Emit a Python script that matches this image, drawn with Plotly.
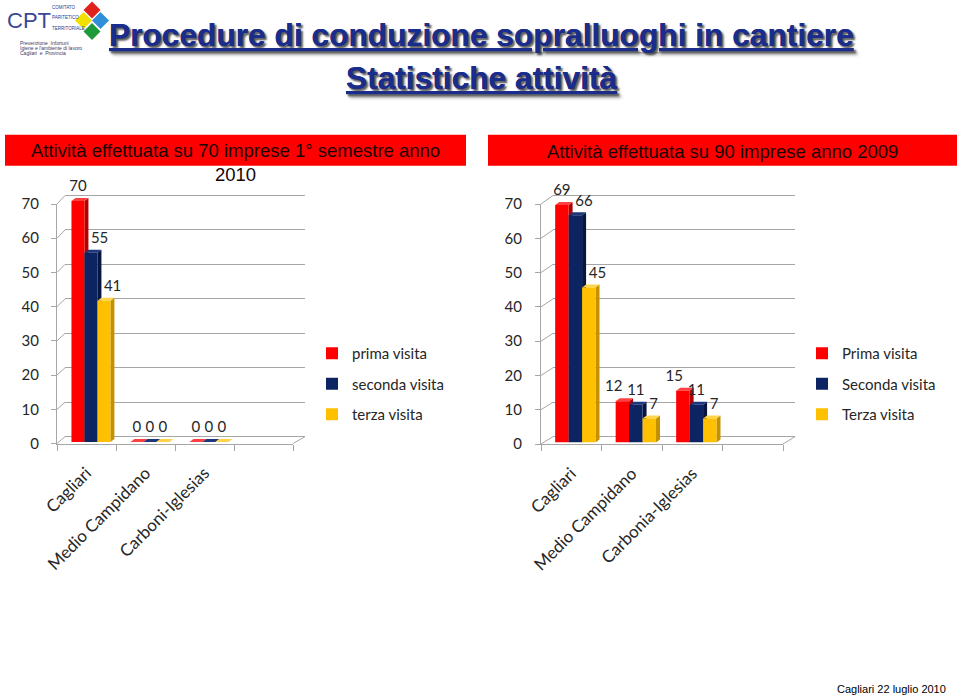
import plotly.graph_objects as go

W, H = 960, 696

# ---------------- data ----------------
categories_2010 = ["Cagliari", "Medio Campidano", "Carboni-Iglesias"]
categories_2009 = ["Cagliari", "Medio Campidano", "Carbonia-Iglesias"]
series_names_2010 = ["prima visita", "seconda visita", "terza visita"]
series_names_2009 = ["Prima visita", "Seconda visita", "Terza visita"]
prima_2010 = [70, 0, 0]
seconda_2010 = [55, 0, 0]
terza_2010 = [41, 0, 0]
prima_2009 = [69, 12, 15]
seconda_2009 = [66, 11, 11]
terza_2009 = [45, 7, 7]
y_tick_values = [0, 10, 20, 30, 40, 50, 60, 70]
title_2010 = "Attività effettuata su 70 imprese 1° semestre anno<br>2010"
title_2009 = "Attività effettuata su 90 imprese anno 2009"
main_title = "Procedure di conduzione sopralluoghi in cantiere"
sub_title = "Statistiche attività"
footer_text = "Cagliari 22 luglio 2010"

# ---------------- style ----------------
front_colors = ["#ff0000", "#0c2462", "#ffc000"]
side_colors = ["#b00000", "#061640", "#c49200"]
top_colors = ["#ff4040", "#1d377a", "#ffd44a"]
grid_color = "#a6a6a6"
text_color = "#262626"
label_font = "Lato, 'Open Sans', sans-serif"
arial = "'Liberation Sans', Arial, sans-serif"
# data-label placement (style only), one list per series
label_pos_2010 = [["top center", "top center", "top center"],
                  ["top right", "top center", "top center"],
                  ["top right", "top center", "top center"]]
label_pos_2009 = [["top center", "top left", "top left"],
                  ["top right", "top center", "top center"],
                  ["top right", "top right", "top right"]]


def fx(p):
    return p / W


def fy(p):
    return 1 - p / H


def y_domain(p0, p70, rng):
    s = (p0 - p70) / 70.0
    bottom = p0 + (0 - rng[0]) * s
    top = p70 - (rng[1] - 70) * s
    return [fy(bottom), fy(top)]


charts = [
    dict(cats=categories_2010, names=series_names_2010,
         values=[prima_2010, seconda_2010, terza_2010], title=title_2010,
         label_pos=label_pos_2010,
         ids=(1, 2, 3, 7), legend="legend",
         back_x=(65, 305), back_y=(436.7, 195.5),
         front_x=(57, 293), front_y=(443.5, 204),
         bar_y=(442, 201), offsets=[-0.145, 0.075, 0.295], bw=0.22,
         ystandoff=9, header=(5, 466), title_xy=(235.5, 162.5),
         legend_xy=(312, 337)),
    dict(cats=categories_2009, names=series_names_2009,
         values=[prima_2009, seconda_2009, terza_2009], title=title_2009,
         label_pos=label_pos_2009,
         ids=(4, 5, 6, 8), legend="legend2",
         back_x=(553, 795), back_y=(436.7, 195.5),
         front_x=(541, 783), front_y=(444, 204),
         bar_y=(442.5, 201.5), offsets=[-0.155, 0.068, 0.29], bw=0.222,
         ystandoff=10, header=(488, 957), title_xy=(722.5, 151.7),
         legend_xy=(802, 337)),
]


def axname(n, letter):
    return f"{letter}axis" if n == 1 else f"{letter}axis{n}"


def axref(n, letter):
    return letter if n == 1 else f"{letter}{n}"


fig = go.Figure()
layout = dict(
    width=W, height=H, margin=dict(l=0, r=0, t=0, b=0, autoexpand=False),
    paper_bgcolor="white", plot_bgcolor="rgba(0,0,0,0)",
    barmode="overlay", showlegend=True,
)
shapes = []
annotations = []

BAR_RANGE = [0, 72.5]
X_RANGE = [-0.5, 3.5]
LABEL_LIFT = 6  # px: data labels sit above the 3D top face

for ch in charts:
    b, r, f, t = ch["ids"]
    # back wall (grid lines)
    back_rng = [-0.5, 70.5]
    layout[axname(b, "x")] = dict(domain=[fx(ch["back_x"][0]), fx(ch["back_x"][1])],
                                  range=[0, 1], visible=False, anchor=axref(b, "y"),
                                  type="linear")
    layout[axname(b, "y")] = dict(domain=y_domain(*ch["back_y"], back_rng), range=back_rng,
                                  anchor=axref(b, "x"), type="linear",
                                  tickmode="array", tickvals=y_tick_values,
                                  showgrid=True, gridcolor=grid_color, gridwidth=1,
                                  showticklabels=False, ticks="", showline=False,
                                  zeroline=False)
    fig.add_trace(go.Scatter(x=[0.5], y=[0], mode="none", showlegend=False, hoverinfo="skip",
                             xaxis=axref(b, "x"), yaxis=axref(b, "y")))
    # bars plane
    layout[axname(r, "x")] = dict(domain=[fx(ch["front_x"][0]), fx(ch["front_x"][1])],
                                  range=X_RANGE, visible=False, anchor=axref(r, "y"),
                                  type="linear")
    layout[axname(r, "y")] = dict(domain=y_domain(*ch["bar_y"], BAR_RANGE), range=BAR_RANGE,
                                  visible=False, anchor=axref(r, "x"), type="linear")
    # front plane (axes, labels)
    layout[axname(f, "x")] = dict(domain=[fx(ch["front_x"][0]), fx(ch["front_x"][1])],
                                  range=X_RANGE, anchor=axref(f, "y"), type="linear",
                                  tickmode="array", tickvals=list(range(len(ch["cats"]))),
                                  ticktext=ch["cats"], ticks="", tickangle=-45,
                                  ticklabelstandoff=12,
                                  tickfont=dict(family=label_font, size=17, color=text_color),
                                  showline=True, linecolor=grid_color, linewidth=1,
                                  showgrid=False, zeroline=False,
                                  minor=dict(tickmode="array",
                                             tickvals=[k - 0.5 for k in range(len(ch["cats"]) + 2)],
                                             ticks="outside", ticklen=6, tickcolor=grid_color,
                                             showgrid=False))
    layout[axname(f, "y")] = dict(domain=y_domain(*ch["front_y"], [0, 70]), range=[0, 70],
                                  anchor=axref(f, "x"), type="linear",
                                  tickmode="array", tickvals=y_tick_values,
                                  ticks="outside", ticklen=5, tickcolor=grid_color,
                                  ticklabelstandoff=ch["ystandoff"],
                                  tickfont=dict(family=label_font, size=15, color=text_color),
                                  showline=True, linecolor=grid_color, linewidth=1,
                                  showgrid=False, zeroline=False)
    fig.add_trace(go.Scatter(x=[0], y=[0], mode="none", showlegend=False, hoverinfo="skip",
                             xaxis=axref(f, "x"), yaxis=axref(f, "y")))
    # data-label plane (same scale as bars, lifted a few px)
    layout[axname(t, "x")] = dict(domain=[fx(ch["front_x"][0]), fx(ch["front_x"][1])],
                                  range=X_RANGE, visible=False, anchor=axref(t, "y"),
                                  type="linear")
    layout[axname(t, "y")] = dict(domain=y_domain(ch["bar_y"][0] - LABEL_LIFT,
                                                  ch["bar_y"][1] - LABEL_LIFT, BAR_RANGE),
                                  range=BAR_RANGE, visible=False, anchor=axref(t, "x"),
                                  type="linear")

    # bars + 3D faces
    px_per_x = (ch["front_x"][1] - ch["front_x"][0]) / (X_RANGE[1] - X_RANGE[0])
    px_per_y = (ch["bar_y"][0] - ch["bar_y"][1]) / 70.0
    dx = 4.0 / px_per_x
    dy = 3.0 / px_per_y
    for j, (name, vals) in enumerate(zip(ch["names"], ch["values"])):
        xs = [i + ch["offsets"][j] for i in range(len(vals))]
        fig.add_trace(go.Bar(
            x=xs, y=vals, width=ch["bw"], name=name,
            marker=dict(color=front_colors[j], line=dict(width=0)),
            xaxis=axref(r, "x"), yaxis=axref(r, "y"),
            legend=ch["legend"], legendgroup=f"{ch['legend']}_{j}",
            hoverinfo="skip",
        ))
        fig.add_trace(go.Scatter(
            x=xs, y=vals, mode="text", text=[str(v) for v in vals],
            textposition=ch["label_pos"][j],
            textfont=dict(family=label_font, size=15, color=text_color),
            cliponaxis=False, showlegend=False, hoverinfo="skip",
            xaxis=axref(t, "x"), yaxis=axref(t, "y"),
        ))
        for x, v in zip(xs, vals):
            x0 = x - ch["bw"] / 2
            x1 = x + ch["bw"] / 2
            shapes.append(dict(
                type="path", xref=axref(r, "x"), yref=axref(r, "y"), layer="below",
                path=f"M {x1},0 L {x1 + dx},{dy} L {x1 + dx},{v + dy} L {x1},{v} Z",
                fillcolor=side_colors[j], line=dict(width=0)))
            shapes.append(dict(
                type="path", xref=axref(r, "x"), yref=axref(r, "y"), layer="below",
                path=f"M {x0},{v} L {x0 + dx},{v + dy} L {x1 + dx},{v + dy} L {x1},{v} Z",
                fillcolor=top_colors[j], line=dict(width=0)))

    # perspective connectors between front axis and back wall
    fb, ft = ch["front_y"]
    bb, bt = ch["back_y"]
    for v in y_tick_values:
        pf = fb - (fb - ft) * v / 70.0
        pb = bb - (bb - bt) * v / 70.0
        shapes.append(dict(type="line", xref="paper", yref="paper",
                           x0=fx(ch["front_x"][0]), y0=fy(pf),
                           x1=fx(ch["back_x"][0]), y1=fy(pb),
                           line=dict(color=grid_color, width=1)))
    shapes.append(dict(type="line", xref="paper", yref="paper",
                       x0=fx(ch["front_x"][1]), y0=fy(fb),
                       x1=fx(ch["back_x"][1]), y1=fy(bb),
                       line=dict(color=grid_color, width=1)))

    # red header band + title
    shapes.append(dict(type="rect", xref="paper", yref="paper", layer="below",
                       x0=fx(ch["header"][0]), x1=fx(ch["header"][1]),
                       y0=fy(165.7), y1=fy(134.7), fillcolor="#ff0000", line=dict(width=0)))
    annotations.append(dict(text=ch["title"], xref="paper", yref="paper",
                            x=fx(ch["title_xy"][0]), y=fy(ch["title_xy"][1]),
                            xanchor="center", yanchor="middle", showarrow=False,
                            font=dict(family=arial, size=18.5, color="#1a0505")))

    layout[ch["legend"]] = dict(x=fx(ch["legend_xy"][0]), y=fy(ch["legend_xy"][1]),
                                xanchor="left", yanchor="top", bgcolor="rgba(0,0,0,0)",
                                font=dict(family=label_font, size=15, color=text_color),
                                tracegroupgap=8, traceorder="grouped")

# main titles (bold, underlined, with shadow)
for txt, yc in [(main_title, 35), (sub_title, 78)]:
    annotations.append(dict(text=txt, xref="paper", yref="paper",
                            x=fx(481.5), y=fy(yc), xanchor="center", yanchor="middle",
                            showarrow=False,
                            font=dict(family=arial, size=31.7, color="#1b2d8c",
                                      weight="bold", lineposition="under",
                                      shadow="2px 2px 2px rgba(60,60,60,0.6)")))

# footer
annotations.append(dict(text=footer_text, xref="paper", yref="paper",
                        x=fx(948), y=fy(689), xanchor="right", yanchor="middle",
                        showarrow=False, font=dict(family=arial, size=11, color="black")))

# logo (CPT)
annotations.append(dict(text="CPT", xref="paper", yref="paper", x=fx(5), y=fy(21),
                        xanchor="left", yanchor="middle", showarrow=False,
                        font=dict(family=arial, size=22, color="#3a4896")))
for txt, yc in [("COMITATO", 8), ("PARITETICO", 18), ("TERRITORIALE", 28)]:
    annotations.append(dict(text=txt, xref="paper", yref="paper", x=fx(50), y=fy(yc),
                            xanchor="left", yanchor="middle", showarrow=False,
                            font=dict(family=arial, size=4.5, color="#2b3a8a")))
for txt, yc in [("Prevenzione  Infortuni", 43), ("Igiene e l'ambiente di lavoro", 48),
                ("Cagliari  e  Provincia", 53)]:
    annotations.append(dict(text=txt, xref="paper", yref="paper", x=fx(18), y=fy(yc),
                            xanchor="left", yanchor="middle", showarrow=False,
                            font=dict(family=arial, size=5, color="#3a3a6a")))
h = 8.5
for (cx, cy), col in [((92, 10), "#e0201c"), ((83.5, 20.5), "#f2e000"),
                      ((100.5, 20.5), "#2f8fd8"), ((92, 31.5), "#1e9a3a")]:
    shapes.append(dict(type="path", xref="paper", yref="paper",
                       path=(f"M {fx(cx)},{fy(cy - h)} L {fx(cx + h)},{fy(cy)} "
                             f"L {fx(cx)},{fy(cy + h)} L {fx(cx - h)},{fy(cy)} Z"),
                       fillcolor=col, line=dict(width=0)))

layout["shapes"] = shapes
layout["annotations"] = annotations
fig.update_layout(**layout)

fig.write_html("out.html", config={"displayModeBar": False},
               post_script="document.body.style.margin='0';")
